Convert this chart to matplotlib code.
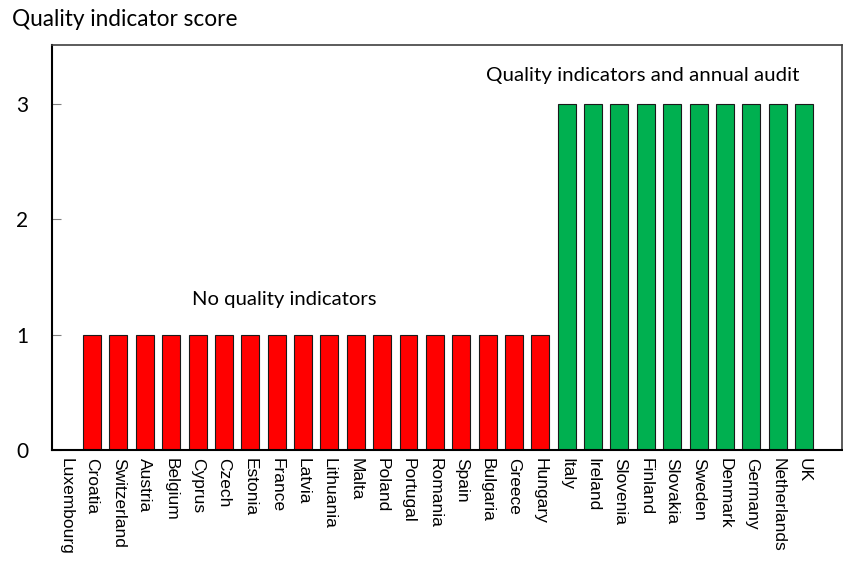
import matplotlib.pyplot as plt

# Country scores and groupings
countries = ["Luxembourg", "Croatia", "Switzerland", "Austria", "Belgium", "Cyprus",
             "Czech", "Estonia", "France", "Latvia", "Lithuania", "Malta", "Poland",
             "Portugal", "Romania", "Spain", "Bulgaria", "Greece", "Hungary",
             "Italy", "Ireland", "Slovenia", "Finland", "Slovakia", "Sweden",
             "Denmark", "Germany", "Netherlands", "UK"]
scores = [0, 1, 1, 1, 1, 1, 1, 1, 1, 1, 1, 1, 1, 1, 1, 1, 1, 1, 1,
          3, 3, 3, 3, 3, 3, 3, 3, 3, 3]
yticks = [0, 1, 2, 3]

RED = "#FF0000"
GREEN = "#00B050"
colors = [GREEN if s == 3 else RED for s in scores]

fig = plt.figure(figsize=(8.43, 5.68), dpi=100)
ax = fig.add_axes([52 / 843, 1 - 450 / 568, 790 / 843, 405 / 568])

x = range(len(countries))
ax.bar(x, scores, width=0.68, color=colors, edgecolor="#1a1a1a", linewidth=0.8, zorder=2)

ax.set_xlim(-0.52, 29.44)
ax.set_ylim(0, 3.51)

ax.set_xticks(list(x))
ax.set_xticklabels(countries, rotation=-90, fontsize=12.5, family="Liberation Sans",
                   va="top", ha="center")
ax.tick_params(axis="x", length=0, pad=6)

ax.set_yticks(yticks)
ax.set_yticklabels([str(t) for t in yticks], fontsize=15, family="Lato")
ax.tick_params(axis="y", direction="in", length=6.5, color="#808080", pad=17)

for side in ["left", "bottom"]:
    ax.spines[side].set_color("black")
    ax.spines[side].set_linewidth(1.5)
for side in ["top", "right"]:
    ax.spines[side].set_color("#404040")
    ax.spines[side].set_linewidth(1.2)

ax.text(8.27, 1.30, "No quality indicators", ha="center", va="center",
        fontsize=14.6, family="Lato")
ax.text(21.9, 3.25, "Quality indicators and annual audit", ha="center", va="center",
        fontsize=14.75, family="Lato")

fig.text(12 / 843, 1 - 20 / 568, "Quality indicator score", ha="left", va="center",
         fontsize=16.3, family="Lato")

fig.savefig("out.png", dpi=100)
